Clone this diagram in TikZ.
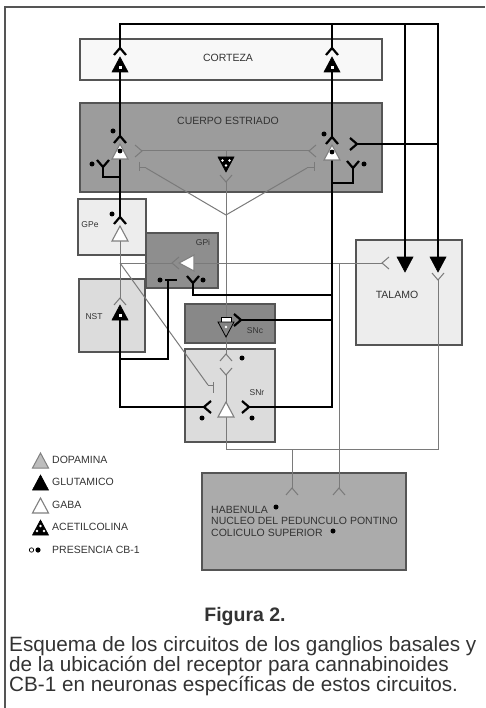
\documentclass[tikz,border=0pt]{standalone}
\usepackage{fontspec}
\setmainfont{Liberation Sans}
\definecolor{ink}{HTML}{333333}
\definecolor{rim}{HTML}{555555}
\definecolor{fibregray}{HTML}{7A7A7A}
\definecolor{ctxfill}{HTML}{F8F8F8}
\definecolor{strfill}{HTML}{9C9C9C}
\definecolor{gpifill}{HTML}{8E8E8E}
\definecolor{sncfill}{HTML}{888888}
\definecolor{palefill}{HTML}{DCDCDC}
\definecolor{basefill}{HTML}{ABABAB}
\definecolor{dafill}{HTML}{BDBDBD}
\tikzset{
    nucleus/.style={draw=rim, line width=1.3pt},
    axon/.style={line width=2.2pt, black},
    fibre/.style={line width=1pt, fibregray},
    syn/.pic={\draw (-6,7) -- (0,0) -- (6,7);},
    soma/.pic={\path[pic actions] (0,0) -- (-8,15) -- (8,15) -- cycle;},
    somadown/.pic={\path[pic actions] (-8,0) -- (8,0) -- (0,15) -- cycle;},
    gaba/.style={draw=gray, fill=white, line width=1.1pt},
    glu/.style={draw=black, fill=black, line width=0.6pt},
    lab/.style={font=\fontsize{10.5}{12}\selectfont, text=ink},
    tag/.style={font=\fontsize{8.5}{10}\selectfont, text=ink},
    captext/.style={font=\fontsize{20.7}{24}\selectfont, text=ink, inner sep=0pt, anchor=base west},
}
\begin{document}
\begin{tikzpicture}[x=1pt, y=-1pt]
    \useasboundingbox (0,0) rectangle (485,708);
    \draw[rim, line width=1.5pt] (5,708) -- (5,7) -- (485,7);

    \draw[nucleus, fill=ctxfill] (80,39) rectangle (382,80);
    \draw[nucleus, fill=strfill] (80,103) rectangle (382,192);
    \draw[nucleus, fill=palefill!50!white] (78,199) rectangle (146,255);
    \draw[nucleus, fill=gpifill] (146,233) rectangle (218,288);
    \draw[nucleus, fill=palefill] (79,279) rectangle (145,352);
    \draw[nucleus, fill=sncfill] (185,304) rectangle (275,343);
    \draw[nucleus, fill=palefill] (185,349) rectangle (275,442);
    \draw[nucleus, fill=palefill!50!white] (356,240) rectangle (462,345);
    \draw[nucleus, fill=basefill] (202,473) rectangle (406,570);

    \node[lab] (tCtx) at (228,58) {CORTEZA};
    \node[lab] (tStr) at (228,121) {CUERPO ESTRIADO};
    \node[tag] (tGpe) at (90,225) {GPe};
    \node[tag] (tGpi) at (203,242) {GPi};
    \node[tag] (tNst) at (94,317) {NST};
    \node[tag] (tSnc) at (255,331) {SNc};
    \node[tag] (tSnr) at (257,393) {SNr};
    \node[lab] (tTal) at (397,295) {TALAMO};
    \node[lab, anchor=base west, inner sep=0pt] (tHab) at (211,513) {HABENULA};
    \node[lab, anchor=base west, inner sep=0pt] (tPpn) at (211,524.5) {NUCLEO DEL PEDUNCULO PONTINO};
    \node[lab, anchor=base west, inner sep=0pt] (tCol) at (211,536) {COLICULO SUPERIOR};

    \coordinate (ctxL) at (120,48);    \coordinate (ctxR) at (332,48);
    \coordinate (ctxLn) at (120,57);   \coordinate (ctxRn) at (332,57);
    \coordinate (ctxLout) at (120,72); \coordinate (ctxRout) at (332,72);
    \coordinate (talL) at (405,257);   \coordinate (talR) at (438,257);
    \coordinate (talIn) at (382,263);  \coordinate (talRin) at (438,280);
    \coordinate (strL) at (120,136);   \coordinate (strR) at (332,137);
    \coordinate (strLn) at (120,144);  \coordinate (strRn) at (332,145);
    \coordinate (strLout) at (120,159); \coordinate (strRout) at (332,160);
    \coordinate (strRin) at (357,144);
    \coordinate (colL) at (103,167);   \coordinate (colR) at (353,168);
    \coordinate (achL) at (142,151);   \coordinate (achR) at (309,151);
    \coordinate (achTop) at (226,157); \coordinate (achIn) at (226,182);
    \coordinate (hub) at (226,215);
    \coordinate (dL) at (146,168);     \coordinate (dR) at (307,168);
    \coordinate (gpe) at (120,217);    \coordinate (gpeN) at (120,226);
    \coordinate (gpeOut) at (120,241); \coordinate (gpeKnee) at (120,263);
    \coordinate (gpiIn) at (172,263);  \coordinate (gpiN) at (179,263);
    \coordinate (gpiOut) at (194,263);
    \coordinate (gpiL) at (168,280);   \coordinate (gpiR) at (193,283);
    \coordinate (nst) at (120,298);    \coordinate (nstN) at (120,305);
    \coordinate (nstOut) at (120,320); \coordinate (nstKnee) at (120,359);
    \coordinate (sncR) at (241,320);   \coordinate (sncTop) at (226,322);
    \coordinate (sncBot) at (226,337);
    \coordinate (snrDA) at (226,354);  \coordinate (snrDen) at (226,375);
    \coordinate (snrD) at (208,385);
    \coordinate (snrSoma) at (226,402); \coordinate (snrOut) at (226,417);
    \coordinate (snrL) at (204,407);   \coordinate (snrR) at (249,407);
    \coordinate (basL) at (292,488);   \coordinate (basR) at (339,488);

    \draw[fibre] (gpeOut) -- (nst);
    \draw[fibre] (gpeKnee) -- (gpiIn);
    \draw[fibre] (gpeKnee) -- (snrD);
    \draw[fibre] (snrD) -- ++(5,0) ++(0,-3) -- ++(0,11);
    \draw[fibre] (gpiOut) -- (talIn);
    \draw[fibre] (gpiOut -| basR) -- (basR);
    \draw[fibre] (snrOut) -- ++(0,32) coordinate (snrKnee) -| (talRin);
    \draw[fibre] (snrKnee -| basL) -- (basL);
    \draw[fibre] (sncTop) -- (hub);
    \draw[fibre] (hub) -- (achIn);
    \draw[fibre] (hub) -- (dL);
    \draw[fibre] (hub) -- (dR);
    \draw[fibre] (dL) -- ++(-7,0) ++(0,-6) -- ++(0,9);
    \draw[fibre] (dR) -- ++(7,0) ++(0,-6) -- ++(0,9);
    \draw[fibre] (achL) -- (achR);
    \draw[fibre] (achTop) -- (achTop |- achL);
    \draw[fibre] (sncBot) -- (snrDA);
    \draw[fibre] (snrDen) -- (snrSoma);

    \draw[axon] (ctxL) -- ++(0,-24) -| (talR);
    \draw[axon] (ctxR) -- ++(0,-24) -| (talL);
    \draw[axon] (ctxLout) -- (strL);
    \draw[axon] (ctxRout) -- (strR);
    \draw[axon] (strLout) -- (gpe);
    \draw[axon] (strLout) ++(0,18) -| (colL);
    \draw[axon] (strRout) |- (snrR);
    \draw[axon] (strRout) ++(0,23) -| (colR);
    \draw[axon] (strRin) -- (strRin -| talR);
    \draw[axon] (gpiR) -- ++(0,12) coordinate (k) -- (k -| strRout);
    \draw[axon] (sncR) -- (sncR -| strRout);
    \draw[axon] (nstOut) |- (snrL);
    \draw[axon] (nstKnee) -| (gpiL);
    \draw[axon] (gpiL) ++(-3,0) -- ++(12,0);

    \pic[axon] at (ctxL) {syn};
    \pic[axon] at (ctxR) {syn};
    \pic[axon] at (strL) {syn};
    \pic[axon] at (strR) {syn};
    \pic[axon] at (gpe) {syn};
    \pic[axon, rotate=180] at (colL) {syn};
    \pic[axon, rotate=180] at (colR) {syn};
    \pic[axon, rotate=-90] at (strRin) {syn};
    \pic[axon, rotate=180] at (gpiR) {syn};
    \pic[axon, rotate=-90] at (sncR) {syn};
    \pic[axon, rotate=-90] at (snrR) {syn};
    \pic[axon, rotate=90] at (snrL) {syn};
    \pic[fibre] at (nst) {syn};
    \pic[fibre, rotate=90] at (gpiIn) {syn};
    \pic[fibre, rotate=90] at (talIn) {syn};
    \pic[fibre, rotate=180] at (talRin) {syn};
    \pic[fibre] at (basL) {syn};
    \pic[fibre] at (basR) {syn};
    \pic[fibre, rotate=-90] at (achL) {syn};
    \pic[fibre, rotate=90] at (achR) {syn};
    \pic[fibre, rotate=180] at (achIn) {syn};
    \pic[fibre] at (snrDA) {syn};
    \pic[fibre, rotate=180] at (snrDen) {syn};

    \pic[glu] at (ctxLn) {soma};
    \pic[glu] at (ctxRn) {soma};
    \pic[glu] at (nstN) {soma};
    \pic[glu] at (talL) {somadown};
    \pic[glu] at (talR) {somadown};
    \foreach \p in {ctxLn, ctxRn, nstN}
        \fill[white] (\p) ++(-1.5,9) rectangle ++(3,3);
    \pic[gaba] at (strLn) {soma};
    \pic[gaba] at (strRn) {soma};
    \fill (strLn) ++(0,7) circle (2.4);
    \fill (strRn) ++(0,7) circle (2.4);
    \pic[gaba] at (gpeN) {soma};
    \pic[gaba, rotate=90] at (gpiN) {soma};
    \pic[gaba] at (snrSoma) {soma};
    \pic[glu] at (achTop) {somadown};
    \foreach \dx/\dy in {-3.5/3.5, 3.5/3.5, 0/8.5}
        \fill[white] (achTop) ++(\dx,\dy) circle (1.3);
    \draw[black, fill=white, line width=0.8pt] (221,317) rectangle (231,322);
    \pic[draw=black, fill=dafill!70!black, line width=0.8pt] at (sncTop) {somadown};
    \fill[white] (sncTop) ++(0,5) circle (1.3);

    \foreach \p in {{113,131}, {324,134}, {92,164}, {364,164}, {112,214},
                    {160,280}, {203,280}, {202,418}, {252,418}, {242,358},
                    {276,507}, {333,531}}
        \fill (\p) circle (2.5);

    \foreach \name/\y/\txt in {legDa/460/DOPAMINA, legGlu/482/GLUTAMICO,
                               legGaba/505/GABA, legAch/527/ACETILCOLINA,
                               legCb/550/PRESENCIA CB-1}
        \node[lab, anchor=west, inner sep=0pt] (\name) at (52,\y) {\txt};
    \pic[draw=gray, fill=dafill, line width=1pt] at (40.5,453) {soma};
    \pic[glu] at (40.5,475) {soma};
    \pic[gaba] at (40.5,498) {soma};
    \pic[glu] at (40.5,520) {soma};
    \foreach \dx/\dy in {0/6, -3.5/11, 3.5/11}
        \fill[white] (40.5,520) ++(\dx,\dy) circle (1.4);
    \draw[line width=0.7pt] (31.5,550) circle (2.2);
    \fill (38,550) circle (2.6);

    \node[font=\fontsize{19.5}{24}\selectfont\bfseries, text=ink, anchor=base] (fig) at (245,621) {Figura 2.};
    \node[captext] (cap1) at (9,651) {Esquema de los circuitos de los ganglios basales y};
    \node[captext] (cap2) at (9,671) {de la ubicación del receptor para cannabinoides};
    \node[captext] (cap3) at (9,691) {CB-1 en neuronas específicas de estos circuitos.};
\end{tikzpicture}
\end{document}
